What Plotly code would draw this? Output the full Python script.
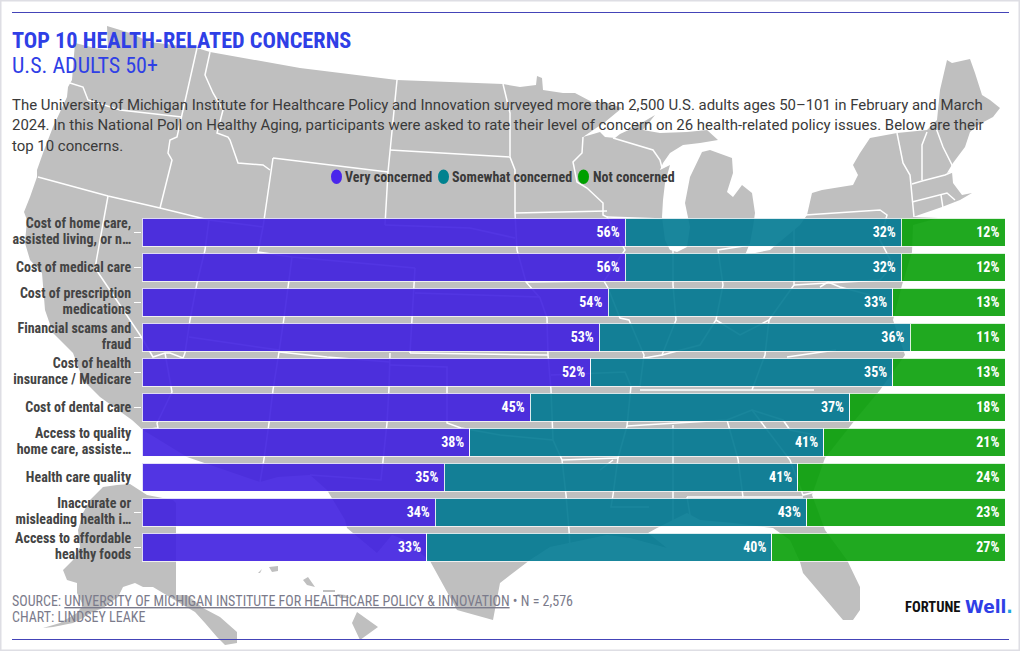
import plotly.graph_objects as go

# ---------- chart data ----------
CATEGORIES = [
    "Cost of home care,<br>assisted living, or n…",
    "Cost of medical care",
    "Cost of prescription<br>medications",
    "Financial scams and<br>fraud",
    "Cost of health<br>insurance / Medicare",
    "Cost of dental care",
    "Access to quality<br>home care, assiste…",
    "Health care quality",
    "Inaccurate or<br>misleading health i…",
    "Access to affordable<br>healthy foods",
]
VERY = [56, 56, 54, 53, 52, 45, 38, 35, 34, 33]
SOMEWHAT = [32, 32, 33, 36, 35, 37, 41, 41, 43, 40]
NOT_CONCERNED = [12, 12, 13, 11, 13, 18, 21, 24, 23, 27]
SERIES_NAMES = ["Very concerned", "Somewhat concerned", "Not concerned"]

# ---------- backdrop map, traced in picture units ----------
MAINLAND = [
    (107,26),(130,33),(150,42),(197,48),(210,52),(300,68),(397,80),(503,84),(520,87),(536,85),(537,76),(542,78),
    (543,90),(563,93),(575,93),(592,102),(607,103),(622,108),(605,122),(583,137),(600,132),(605,137),(615,138),
    (620,134),(633,128),(655,115),(643,130),(660,133),(687,132),(707,130),(718,140),(700,143),(683,145),(670,153),
    (663,163),(660,170),(670,165),(665,183),(663,200),(662,217),(665,240),(670,250),(677,252),(687,247),(690,227),
    (685,203),(690,177),(697,163),(702,152),(710,150),(732,158),(733,173),(727,192),(733,197),(742,185),(752,193),
    (755,213),(753,227),(750,243),(745,255),(770,250),(800,225),(807,215),(812,193),(822,190),(853,185),(858,175),
    (853,165),(860,153),(870,138),(897,133),(927,130),(937,120),(940,90),(947,60),(952,63),(970,59),(975,73),
    (982,95),(990,100),(1000,108),(993,117),(978,125),(970,132),(965,147),(953,163),(947,173),(952,172),(953,183),
    (962,195),(972,193),(960,200),(952,203),(942,207),(913,217),(938,218),(913,225),(912,252),(902,285),(893,320),
    (905,355),(880,390),(855,420),(825,458),(812,495),(825,530),(847,560),(860,587),(860,610),(853,620),(843,620),
    (830,605),(817,590),(803,573),(800,562),(790,540),(773,528),(733,523),(700,520),(687,513),(657,528),(648,533),
    (667,548),(630,538),(607,535),(550,547),(530,560),(500,583),(493,620),(457,610),(430,561),(405,540),(392,535),
    (377,553),(347,528),(345,520),(327,490),(310,475),(278,477),(260,482),(187,457),(143,430),(132,420),(100,397),
    (83,380),(73,353),(53,333),(45,310),(42,273),(30,260),(25,243),(27,220),(24,212),(30,197),(37,177),(37,170),
    (43,153),(53,127),(67,97),(68,87),(72,80),(75,43),(95,48),(108,50),(107,26),
]
ALASKA = [
    (103,487),(117,485),(130,484),(147,495),(173,500),(176,503),(176,595),(187,595),(203,608),(220,617),(237,632),
    (237,643),(225,645),(217,637),(205,623),(195,612),(183,605),(170,597),(153,587),(143,587),(135,583),(123,587),
    (118,597),(103,608),(90,613),(83,618),(73,623),(53,627),(43,628),(60,623),(77,613),(83,605),(77,593),(77,583),
    (67,580),(63,570),(73,560),(80,547),(78,530),(83,513),(90,500),
]
HAWAII = [
    [(357,612),(378,627),(360,640),(352,623)],
    [(337,594),(345,595),(350,598),(340,598)],
    [(323,590),(335,590),(335,592),(323,592)],
    [(303,580),(308,577),(315,587),(307,585)],
    [(269,567),(278,566),(278,571),(272,572)],
    [(258,573),(262,569),(260,573)],
]
BORDERS = [
    [(70,83),(83,87),(88,100),(120,110),(182,117)],
    [(197,48),(182,117),(177,137),(170,140),(168,153),(172,160),(160,208)],
    [(210,52),(205,75),(213,93),(223,110),(217,133),(228,137),(230,140),(238,163),(263,165),(270,170)],
    [(38,177),(108,196),(160,208),(209,220),(263,227)],
    [(273,158),(388,172)],[(273,158),(263,227),(258,252),(292,257),(415,268)],
    [(397,80),(390,150),(388,172),(385,225)],[(390,150),(510,157)],
    [(385,225),(470,228),(515,238)],
    [(108,196),(95,268),(130,320),(142,338),(153,357),(165,353),(170,353),(183,358),(185,353)],
    [(165,353),(172,392),(157,423),(158,428),(143,430)],
    [(209,220),(205,250),(197,283),(190,320),(185,353)],[(189,337),(279,350)],
    [(292,257),(289,282),(284,318),(279,352),(273,390),(269,423),(264,459),(260,482)],
    [(279,352),(327,357),(390,362)],
    [(415,268),(412,318),(410,353)],[(415,293),(540,297)],[(410,353),(548,355)],
    [(390,353),(389,388),(387,423),(383,458),(381,480),(310,475)],[(390,365),(447,367),(447,423),(461,428),(500,435),(553,440)],
    [(503,84),(510,113),(510,157),(515,170),(515,213),(517,250),(526,282),(540,298),(547,318),(548,355),(551,390),(552,425),(553,440),(562,460),(566,495),(569,530),(570,548)],
    [(515,213),(607,211)],[(583,137),(582,153),(573,162),(577,182),(587,188),(603,203),(603,215),(607,217),(625,250),(604,281),(608,288),(620,318),(629,320),(644,355),(640,386),(631,386),(627,426),(618,458),(613,495),(611,507),(649,507)],
    [(526,282),(604,281)],[(607,217),(662,219)],[(613,138),(653,150),(660,160),(662,168)],
    [(551,375),(625,372),(631,386)],[(562,460),(618,458)],[(640,390),(752,390),(814,390)],
    [(673,250),(673,285),(676,320),(662,355),(644,358)],[(662,355),(700,345),(716,320),(723,285),(718,250),(750,245)],
    [(716,320),(740,335),(769,320),(794,285),(794,225)],[(769,320),(765,355),(752,390)],[(787,357),(836,350)],
    [(805,215),(880,210),(887,215),(880,240),(893,265),(880,280),(794,285)],[(820,287),(828,282),(840,287),(870,295)],
    [(897,133),(903,163),(910,175),(912,200),(914,217)],[(927,132),(922,145),(922,180)],[(936,128),(943,147),(952,165),(952,172)],
    [(912,184),(922,181),(945,175),(952,172)],[(912,202),(942,194),(947,193),(955,200)],[(941,195),(943,208)],
    [(627,426),(727,420),(752,410),(783,420),(790,430),(815,435)],[(752,410),(790,460),(803,495),(815,492)],
    [(673,425),(673,533)],[(727,420),(738,459),(743,497),(803,497)],[(687,497),(743,497)],[(687,497),(690,515)],
    [(613,460),(600,470)],
]

def flatten(pieces):
    xs, ys = [], []
    for piece in pieces:
        for x, y in piece:
            xs.append(x); ys.append(y)
        xs.append(None); ys.append(None)
    return xs, ys

PURPLE, TEAL, GREEN = "#4020e0", "#017992", "#08a008"
COND = "'Roboto Condensed','Liberation Sans Narrow'"

fig = go.Figure()
mx, my = flatten([MAINLAND, ALASKA] + HAWAII)
fig.add_trace(go.Scatter(x=mx, y=my, mode="lines", fill="toself", fillcolor="#bfbfbf", line=dict(width=0, color="#bfbfbf"), hoverinfo="skip", showlegend=False, xaxis="x", yaxis="y"))
bx, by = flatten(BORDERS)
fig.add_trace(go.Scatter(x=bx, y=by, mode="lines", line=dict(width=1.5, color="white"), hoverinfo="skip", showlegend=False, xaxis="x", yaxis="y"))

for name, values, color in zip(SERIES_NAMES, [VERY, SOMEWHAT, NOT_CONCERNED], [PURPLE, TEAL, GREEN]):
    fig.add_trace(go.Bar(
        y=CATEGORIES, x=values, name=name, orientation="h", xaxis="x2", yaxis="y2",
        marker=dict(color=color, opacity=0.9, line=dict(color="rgba(255,255,255,0.85)", width=1)),
        text=[f"{v}%\u2009" for v in values], textposition="inside", insidetextanchor="end", textangle=0,
        textfont=dict(family=COND, size=14, color="white", weight="bold"), constraintext="none", showlegend=False,
    ))

def note(x, y, text, size, color, family="Roboto", bold=False):
    return dict(x=x - 2, y=y, xref="x", yref="y", text=text, showarrow=False, xanchor="left", yanchor="middle", align="left",
                font=dict(family=family, size=size, color=color, weight="bold" if bold else "normal"))

BLUE = "#2f3fe6"
INK = "#3a3a3a"
GREY = "#7b7b8b"
annotations = [
    note(12, 40, "TOP 10 HEALTH-RELATED CONCERNS", 22.3, BLUE, COND, True),
    note(12, 65.5, "U.S. ADULTS 50+", 22, BLUE, COND),
    note(12, 104.5, "The University of Michigan Institute for Healthcare Policy and Innovation surveyed more than 2,500 U.S. adults ages 50–101 in February and March", 14.95, INK),
    note(12, 125, "2024. In this National Poll on Healthy Aging, participants were asked to rate their level of concern on 26 health-related policy issues. Below are their", 14.95, INK),
    note(12, 145.5, "top 10 concerns.", 14.95, INK),
    note(345, 177, SERIES_NAMES[0], 14, INK, COND, True),
    note(452, 177, SERIES_NAMES[1], 14, INK, COND, True),
    note(593, 177, SERIES_NAMES[2], 14, INK, COND, True),
    note(12, 601, "SOURCE: <u>UNIVERSITY OF MICHIGAN INSTITUTE FOR HEALTHCARE POLICY &amp; INNOVATION</u> • N = 2,576", 14, GREY, COND),
    note(12, 617, "CHART: LINDSEY LEAKE", 14, GREY, COND),
    note(905, 607, "FORTUNE", 14.5, "#111111", COND, True),
    note(965, 607, "<span style='color:#2f3fe6'>Well</span><span style='color:#1ea7e0'>.</span>", 17, BLUE, "DejaVu Sans", True),
]

def ellipse(x0, color):
    return dict(type="circle", xref="x", yref="y", x0=x0, x1=x0 + 11, y0=169.5, y1=184, fillcolor=color, line=dict(width=0), layer="above")

shapes = [
    dict(type="rect", xref="paper", yref="paper", x0=0, x1=1, y0=0, y1=1, line=dict(color="#dedee4", width=3), layer="above"),
    dict(type="line", xref="x", yref="y", x0=12, x1=1009, y0=12.5, y1=12.5, line=dict(color="#4444b8", width=1), layer="above"),
    dict(type="line", xref="x", yref="y", x0=12, x1=1009, y0=639.5, y1=639.5, line=dict(color="#4444b8", width=1), layer="above"),
    ellipse(331, "#4a26eb"), ellipse(438, "#00828f"), ellipse(578, "#00a000"),
]

fig.update_layout(
    width=1020, height=651, margin=dict(l=0, r=0, t=0, b=0), paper_bgcolor="white", plot_bgcolor="rgba(0,0,0,0)",
    barmode="stack", bargap=0.2, showlegend=False, annotations=annotations, shapes=shapes,
    xaxis=dict(domain=[0, 1], range=[0, 1020], visible=False, fixedrange=True),
    yaxis=dict(domain=[0, 1], range=[651, 0], visible=False, fixedrange=True),
    xaxis2=dict(domain=[142 / 1020, 1005 / 1020], range=[0, 100], visible=False, anchor="y2", fixedrange=True),
    yaxis2=dict(domain=[(651 - 564.5) / 651, (651 - 214.5) / 651], anchor="x2", type="category",
                categoryorder="array", categoryarray=CATEGORIES, autorange="reversed", showgrid=False, showline=False,
                zeroline=False, ticks="outside", ticklen=7, tickwidth=1, tickcolor="white", automargin=False, fixedrange=True,
                tickfont=dict(family=COND, size=14, color="#444444", weight="bold")),
)

# tighten the two-line category labels to the reference's 16 px line gap
POST = """
document.body.style.margin='0';
(function(){
  function fix(){
    document.querySelectorAll('.y2tick text').forEach(function(t){
      var lines=t.querySelectorAll('tspan.line');
      if(lines.length>1 && !t.dataset.tight){
        lines.forEach(function(s,i){ if(i>0) s.setAttribute('dy','16px'); });
        t.setAttribute('y', parseFloat(t.getAttribute('y'))-1);
        t.dataset.tight='1';
      }
    });
  }
  fix(); setTimeout(fix,200);
})();
"""
fig.write_html("out.html", config=dict(displayModeBar=False), post_script=POST)
